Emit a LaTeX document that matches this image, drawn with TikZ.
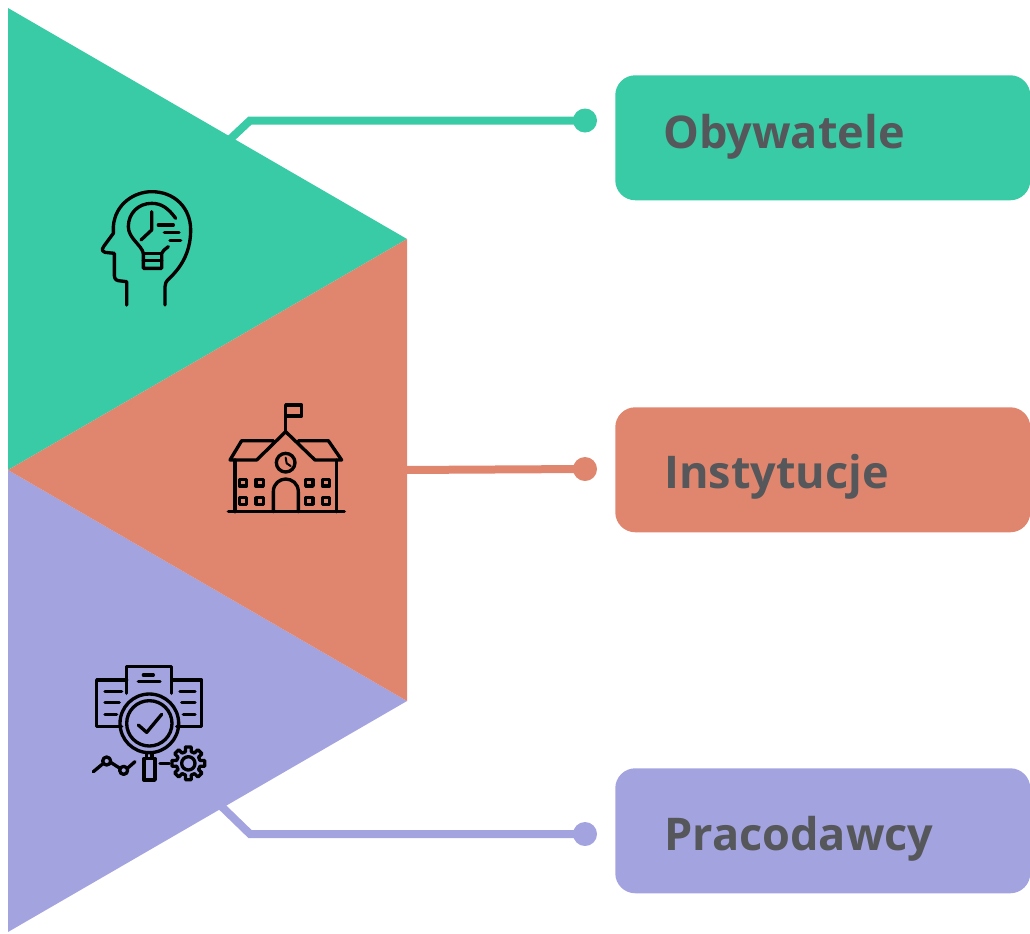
\documentclass[tikz,border=0pt]{standalone}
\usepackage{fontspec}
\usetikzlibrary{calc}
\setmainfont{Open Sans}
\definecolor{cgreen}{HTML}{38CBA5}
\definecolor{csalmon}{HTML}{E0866E}
\definecolor{cpurple}{HTML}{A3A3E0}
\definecolor{ctext}{HTML}{55575A}
\tikzset{
  labelbox/.style={fill=#1,draw=none,rounded corners=15pt,minimum width=311.25pt,minimum height=93.75pt,inner sep=0pt,anchor=north west},
  labeltext/.style={text=ctext,font=\fontsize{33.8}{38}\selectfont\bfseries,anchor=base west,inner sep=0pt},
  enddot/.style={circle,fill=#1,draw=none,minimum size=18pt,inner sep=0pt},
  conn/.style={draw=#1,line width=6pt},
  icon/.style={draw=black,line width=2.5pt,line cap=round,line join=round},
  zoomgrid/.style={x=.25pt,y=-.25pt}
}
\begin{document}
\begin{tikzpicture}[x=.75pt,y=-.75pt]
\useasboundingbox (0,0) rectangle (1030,933);
% triangles
\coordinate (tg1) at (8,8); \coordinate (tip1) at (407,239); \coordinate (mid) at (8,470);
\coordinate (tip2) at (407,701); \coordinate (tb) at (8,932);
\fill[cgreen] (tg1) -- (tip1) -- (mid) -- cycle;
\fill[cpurple] (mid) -- (tip2) -- (tb) -- cycle;
\fill[csalmon] (tip1) -- (tip2) -- (mid) -- cycle;
% boxes
\node[labelbox=cgreen] (b1) at (615,75) {};
\node[labelbox=csalmon] (b2) at (615,407) {};
\node[labelbox=cpurple] (b3) at (615,768) {};
\node[labeltext] (t1) at (663,148) {Obywatele};
\node[labeltext] (t2) at (664,488) {Instytucje};
\node[labeltext] (t3) at (664,850) {Pracodawcy};
% connectors
\node[enddot=cgreen] (d1) at (585,120.5) {};
\node[enddot=csalmon] (d2) at (585,469) {};
\node[enddot=cpurple] (d3) at (585,834) {};
\coordinate (s1) at (225,144); \coordinate (k1) at (250,120.5);
\coordinate (s2) at (400,470);
\coordinate (s3) at (218,803); \coordinate (k3) at (250,834);
\draw[conn=cgreen] (s1) -- (k1) -- (d1.center);
\draw[conn=csalmon] (s2) -- (d2.center);
\draw[conn=cpurple] (s3) -- (k3) -- (d3.center);
% head icon
\begin{scope}[shift={(80,170)},zoomgrid]
\draw[icon] (140,405) -- (140,335) -- (115,332) .. controls (103,330) and (103,320) .. (103,310) -- (103,250) -- (75,247) .. controls (62,243) and (68,232) .. (72,228) -- (100,190) -- (100,170)
 .. controls (105,100) and (165,65) .. (215,65) .. controls (285,65) and (332,115) .. (332,180) .. controls (332,250) and (300,295) .. (268,325) .. controls (258,335) and (255,340) .. (255,350) -- (255,405);
\draw[icon] (287,145) .. controls (265,115) and (245,100) .. (215,100) .. controls (175,100) and (145,130) .. (145,170) .. controls (145,205) and (185,225) .. (190,250) -- (190,295) -- (245,295) -- (245,250) .. controls (247,243) and (255,238) .. (265,230);
\draw[icon] (190,272) -- (245,272);
\draw[icon] (190,250) -- (245,250);
\draw[icon] (215,125) -- (215,180) -- (183,210);
\draw[icon] (235,165) -- (280,165) (253,187) -- (297,187) (270,212) -- (302,212);
\end{scope}
% school icon
\begin{scope}[shift={(210,390)},zoomgrid]
\draw[icon] (227,125) -- (227,45) -- (275,45) -- (275,78) -- (227,78);
\draw[icon] (190,152) -- (95,152) -- (60,210) -- (140,210) -- (227,125) -- (315,210) -- (395,210) -- (355,152) -- (265,152);
\draw[icon] (75,210) -- (75,365) (380,210) -- (380,365) (55,365) -- (403,365);
\draw[icon] (227,218) circle[radius=28];
\draw[icon,line width=1.5pt] (227,203) -- (230,220) -- (242,228);
\draw[icon] (190,365) -- (190,305) .. controls (190,280) and (210,267) .. (227,267) .. controls (245,267) and (265,280) .. (265,305) -- (265,365);
\foreach \wx in {88,138,287,337}\foreach \wy in {268,323}
  \draw[icon] (\wx,\wy) rectangle ++(22,20);
\end{scope}
% report icon
\begin{scope}[shift={(80,655)},zoomgrid]
\draw[icon] (140,115) -- (140,35) -- (275,35) -- (275,115);
\draw[icon] (190,60) -- (220,60) (175,80) -- (240,80);
\draw[icon] (140,75) -- (50,75) -- (50,215) -- (125,215);
\draw[icon] (275,75) -- (365,75) -- (365,215) -- (290,215);
\draw[icon] (75,110) -- (125,110) (75,143) -- (118,143) (75,178) -- (110,178);
\draw[icon] (300,110) -- (345,110) (305,143) -- (345,143) (310,178) -- (345,178);
\draw[icon] (208,205) circle[radius=88];
\draw[icon] (208,205) circle[radius=68];
\draw[icon] (175,210) -- (200,232) -- (245,178);
\draw[icon] (200,293) -- (200,310) (216,293) -- (216,310);
\draw[icon] (192,310) rectangle (225,375);
\draw[icon] (40,350) -- (70,325) (92,322) -- (120,340) (142,340) -- (165,320);
\draw[icon] (80,318) circle[radius=12];
\draw[icon] (131,346) circle[radius=12];
\draw[icon] (240,325) -- (268,325);
\draw[icon] (325,325) circle[radius=20];
\foreach \ga in {0,45,...,315}
  \draw[icon] ($(325,325)+(\ga-14:36)$) -- ($(325,325)+(\ga-10:50)$) -- ($(325,325)+(\ga+10:50)$) -- ($(325,325)+(\ga+14:36)$) -- ($(325,325)+(\ga+31:36)$);
\end{scope}
\end{tikzpicture}
\end{document}
